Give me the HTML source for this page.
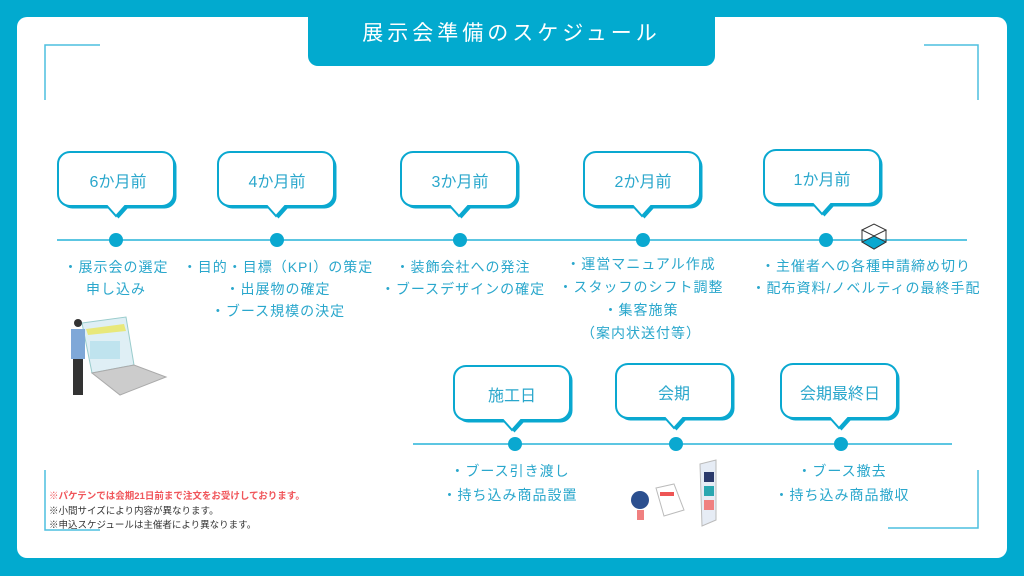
<!DOCTYPE html>
<html><head><meta charset="utf-8"><style>
body{margin:0;width:1024px;height:576px;overflow:hidden;background:#02aacf;font-family:"Liberation Sans","Noto Sans CJK JP",sans-serif;}
.card{position:absolute;left:17px;top:17px;width:990px;height:541px;background:#fff;border-radius:10px;}
.tab{position:absolute;left:308px;top:0;width:407px;height:66px;background:#02aacf;border-radius:0 0 10px 10px;color:#fff;font-size:21px;letter-spacing:4px;text-align:center;line-height:68px;}
.t{position:absolute;color:#2aa7cc;font-size:14px;letter-spacing:1px;white-space:nowrap;transform:translateX(-50%);text-align:center;line-height:22px;}
.b{position:absolute;color:#2aa7cc;font-size:16px;white-space:nowrap;transform:translateX(-50%);}
.n{position:absolute;font-size:9.5px;white-space:nowrap;color:#333;}
</style></head><body>
<div class="card"></div>
<div class="tab">展示会準備のスケジュール</div>
<svg width="1024" height="576" style="position:absolute;left:0;top:0">
<g stroke="#4dbfdf" stroke-width="1.5" fill="none">
<path d="M100 45H45V100"/><path d="M924 45H978V100"/>
<path d="M45 470V530H100"/><path d="M888 528H978V470"/>
</g>
<g stroke="#5cc6e2" stroke-width="2">
<line x1="57" y1="240" x2="967" y2="240"/>
<line x1="413" y1="444" x2="952" y2="444"/>
</g>
<g fill="#0aa8d0">
<circle cx="116" cy="240" r="7"/><circle cx="277" cy="240" r="7"/><circle cx="460" cy="240" r="7"/><circle cx="643" cy="240" r="7"/><circle cx="826" cy="240" r="7"/>
<circle cx="515" cy="444" r="7"/><circle cx="676" cy="444" r="7"/><circle cx="841" cy="444" r="7"/>
</g>
<defs>
<g id="bub"><path d="M12 0H104A12 12 0 0 1 116 12V42A12 12 0 0 1 104 54H67L58 64L49 54H12A12 12 0 0 1 0 42V12A12 12 0 0 1 12 0Z" transform="translate(2.5,2.5)" fill="#0aa8d0"/><path d="M12 0H104A12 12 0 0 1 116 12V42A12 12 0 0 1 104 54H67L58 64L49 54H12A12 12 0 0 1 0 42V12A12 12 0 0 1 12 0Z" fill="#fff" stroke="#0aa8d0" stroke-width="2"/></g>
</defs>
<use href="#bub" x="58" y="152"/><use href="#bub" x="218" y="152"/><use href="#bub" x="401" y="152"/><use href="#bub" x="584" y="152"/><use href="#bub" x="764" y="150"/>
<use href="#bub" x="454" y="366"/><use href="#bub" x="616" y="364"/><use href="#bub" x="781" y="364"/>
<g transform="translate(862,222)" stroke="#333" stroke-width="1" fill="none"><path d="M0 8L12 2L24 8L12 14Z"/><path d="M0 8V20L12 27L24 20V8"/><path d="M12 14V27"/><path d="M0 20L12 27L24 20L12 14Z" fill="#0aa8d0"/></g>
<g transform="translate(68,315)">
<path d="M14 8L58 2L66 50L24 58Z" fill="#dfeff5" stroke="#9cc" stroke-width="1"/>
<path d="M18 14L56 9L58 16L20 20Z" fill="#e8e87a"/>
<rect x="22" y="26" width="30" height="18" fill="#bfe3ee"/>
<path d="M24 58L66 50L98 62L52 80Z" fill="#ccc" stroke="#aaa"/>
<circle cx="10" cy="8" r="4" fill="#333"/>
<path d="M3 14H17V44H3Z" fill="#7fa8d8"/>
<path d="M5 44H15V80H5Z" fill="#333"/>
</g>
<g transform="translate(630,460)">
<circle cx="10" cy="40" r="9" fill="#2b4f8f"/><rect x="7" y="50" width="7" height="10" fill="#f08080"/>
<path d="M26 28L44 24L54 50L34 56Z" fill="#fff" stroke="#bbb"/><rect x="30" y="32" width="14" height="4" fill="#e55"/>
<path d="M70 4L86 0V60L72 66Z" fill="#e6ecf5" stroke="#bbb"/>
<rect x="74" y="12" width="10" height="10" fill="#2b3a6b"/><rect x="74" y="26" width="10" height="10" fill="#2aa7b0"/><rect x="74" y="40" width="10" height="10" fill="#f08080"/>
</g>
</svg>
<div class="b" style="left:118px;top:168px">6か月前</div>
<div class="b" style="left:277px;top:168px">4か月前</div>
<div class="b" style="left:460px;top:168px">3か月前</div>
<div class="b" style="left:643px;top:168px">2か月前</div>
<div class="b" style="left:822px;top:166px">1か月前</div>
<div class="b" style="left:512px;top:382px">施工日</div>
<div class="b" style="left:674px;top:380px">会期</div>
<div class="b" style="left:840px;top:380px">会期最終日</div>

<div class="t" style="left:116px;top:256px">・展示会の選定<br>申し込み</div>
<div class="t" style="left:278px;top:256px">・目的・目標（KPI）の策定<br>・出展物の確定<br>・ブース規模の決定</div>
<div class="t" style="left:463px;top:256px">・装飾会社への発注<br>・ブースデザインの確定</div>
<div class="t" style="left:641px;top:253px;line-height:23px">・運営マニュアル作成<br>・スタッフのシフト調整<br>・集客施策<br>（案内状送付等）</div>
<div class="t" style="left:866px;top:255px">・主催者への各種申請締め切り<br>・配布資料/ノベルティの最終手配</div>
<div class="t" style="left:510px;top:459px;line-height:24px">・ブース引き渡し<br>・持ち込み商品設置</div>
<div class="t" style="left:842px;top:459px;line-height:24px">・ブース撤去<br>・持ち込み商品撤収</div>

<div class="n" style="left:49px;top:488px;color:#f0555a;font-weight:bold;">※パケテンでは会期21日前まで注文をお受けしております。</div>
<div class="n" style="left:49px;top:503px">※小間サイズにより内容が異なります。</div>
<div class="n" style="left:49px;top:517px">※申込スケジュールは主催者により異なります。</div>
</body></html>
